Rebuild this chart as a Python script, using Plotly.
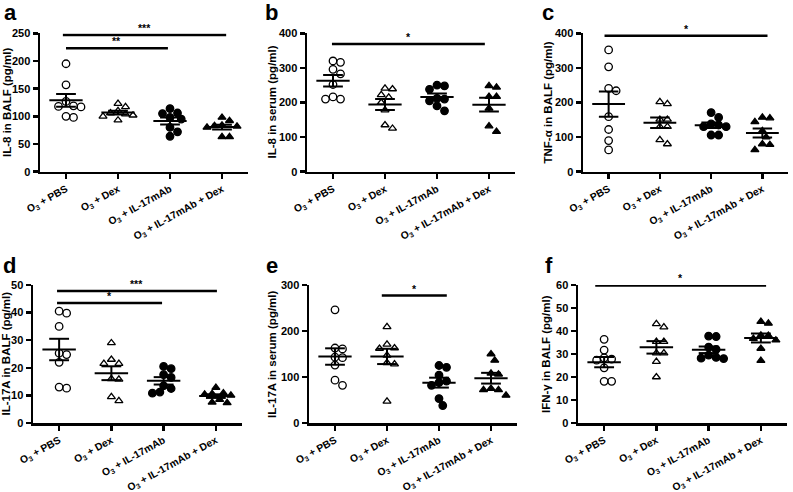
import numpy as np
import plotly.graph_objects as go

W, H = 793, 492

groups = ["O<sub>3</sub> + PBS", "O<sub>3</sub> + Dex", "O<sub>3</sub> + IL-17mAb", "O<sub>3</sub> + IL-17mAb + Dex"]

# ---- data (pg/ml) ----
il8_balf_pbs = [195, 157, 127, 119, 118, 117, 100, 98]
il8_balf_dex = [123, 117, 110, 106, 104, 102, 100, 93]
il8_balf_mab = [114, 106, 105, 98, 95, 80, 72, 64]
il8_balf_mabdex = [98, 92, 84, 83, 82, 80, 63, 63]

il8_serum_pbs = [320, 316, 296, 283, 252, 216, 210, 210]
il8_serum_dex = [241, 239, 215, 222, 200, 178, 125, 135]
il8_serum_mab = [250, 238, 248, 210, 212, 176, 190, 205]
il8_serum_mabdex = [248, 244, 217, 217, 183, 116, 132]

tnf_balf_pbs = [352, 303, 234, 241, 159, 122, 90, 63]
tnf_balf_dex = [202, 196, 151, 151, 130, 130, 80, 92]
tnf_balf_mab = [157, 171, 135, 138, 130, 130, 106, 106]
tnf_balf_mabdex = [157, 155, 144, 118, 100, 80, 78, 63]

il17_balf_pbs = [40.5, 39.8, 35, 25.3, 24.8, 22, 13, 12.6]
il17_balf_dex = [29, 23, 21.5, 21.5, 16, 15.8, 9.5, 8]
il17_balf_mab = [20.5, 19.7, 17.5, 16.5, 13.5, 12.5, 11.2, 10.8]
il17_balf_mabdex = [12.8, 10.8, 10.6, 10.4, 10, 8.5, 7.5, 7.3]

il17_serum_pbs = [246, 161, 163, 142, 143, 126, 82, 93]
il17_serum_dex = [209, 163, 171, 162, 147, 131, 128, 47]
il17_serum_mab = [125, 121, 104, 91, 88, 82, 53, 38]
il17_serum_mabdex = [150, 136, 108, 106, 75, 72, 72, 60]

ifn_balf_pbs = [36.4, 31.7, 27.8, 28.3, 27.3, 24, 18.1, 18.1]
ifn_balf_dex = [43.1, 41.7, 35.4, 35.4, 30.4, 30.4, 26.7, 20]
ifn_balf_mab = [37.6, 37.8, 33, 32, 28.5, 28.2, 28, 29.5]
ifn_balf_mabdex = [43.3, 44.1, 38.1, 38, 36.7, 36, 32.4, 27.1]

# significance bars: (start, end, level, label)
sig_a = [(-0.06, 3.08, 247, "***"), (0.0, 1.96, 223, "**")]
sig_b = [(-0.02, 2.92, 369, "*")]
sig_c = [(-0.08, 3.1, 393, "*")]
sig_d = [(-0.04, 3.02, 47.8, "***"), (-0.04, 1.97, 43.5, "*")]
sig_e = [(0.9, 2.15, 277, "*")]
sig_f = [(-0.17, 3.1, 59.8, "*")]

TOP = (33.3, 171.7)
BOT = (285, 423)

panels = [
    dict(letter="a", title="IL-8 in BALF (pg/ml)", ymax=250, dtick=50,
         data=[il8_balf_pbs, il8_balf_dex, il8_balf_mab, il8_balf_mabdex], sig=sig_a,
         box=(40, 248) + TOP, lpos=(10, 13), tx=6.5),
    dict(letter="b", title="IL-8 in serum (pg/ml)", ymax=400, dtick=100,
         data=[il8_serum_pbs, il8_serum_dex, il8_serum_mab, il8_serum_mabdex], sig=sig_b,
         box=(307, 515) + TOP, lpos=(271, 13), tx=271),
    dict(letter="c", title="TNF-\u03b1 in BALF (pg/ml)", ymax=400, dtick=100,
         data=[tnf_balf_pbs, tnf_balf_dex, tnf_balf_mab, tnf_balf_mabdex], sig=sig_c,
         box=(583, 788) + TOP, lpos=(548, 13), tx=547),
    dict(letter="d", title="IL-17A in BALF (pg/ml)", ymax=50, dtick=10,
         data=[il17_balf_pbs, il17_balf_dex, il17_balf_mab, il17_balf_mabdex], sig=sig_d,
         box=(33, 242) + BOT, lpos=(9, 265), tx=5.5),
    dict(letter="e", title="IL-17A in serum (pg/ml)", ymax=300, dtick=100,
         data=[il17_serum_pbs, il17_serum_dex, il17_serum_mab, il17_serum_mabdex], sig=sig_e,
         box=(309, 517) + BOT, lpos=(272, 265), tx=272),
    dict(letter="f", title="IFN-\u03b3 in BALF (pg/ml)", ymax=60, dtick=10,
         data=[ifn_balf_pbs, ifn_balf_dex, ifn_balf_mab, ifn_balf_mabdex], sig=sig_f,
         box=(578, 787) + BOT, lpos=(549, 265), tx=546),
]

symbols = ["circle-open", "triangle-up-open", "circle", "triangle-up"]
sizes = [7.5, 7, 7.5, 7]
FONT = "Liberation Sans"


def swarm(vals, ppu, ppc, diam=7.5):
    vals = np.asarray(vals, dtype=float)
    order = np.argsort(-vals)
    placed = []
    offs = np.zeros(len(vals))
    cands = [0]
    for j in range(1, 20):
        cands += [j, -j]
    for i in order:
        y = vals[i] * ppu
        x = 0.0
        for c in cands:
            x = c * diam * 0.5
            if all((x - px) ** 2 + (y - py) ** 2 >= (diam * 0.95) ** 2 for px, py in placed):
                break
        placed.append((x, y))
        offs[i] = x / ppc
    return offs


fig = go.Figure()
layout = dict(width=W, height=H, margin=dict(l=0, r=0, t=0, b=0), hovermode=False,
              paper_bgcolor="white", plot_bgcolor="white", showlegend=False)
annotations = []
shapes = []

for k, p in enumerate(panels):
    n = "" if k == 0 else str(k + 1)
    xa, ya = "x" + n, "y" + n
    x0, x1, yt, yb = p["box"]
    ppc = (x1 - x0) / 4.0
    ppu = (yb - yt) / p["ymax"]
    layout["xaxis" + n] = dict(
        domain=[x0 / W, x1 / W], range=[-0.5, 3.5], anchor=ya, fixedrange=True,
        tickvals=[0, 1, 2, 3], ticktext=groups, tickangle=-29,
        showline=True, linewidth=2.5, linecolor="black", ticks="outside",
        ticklen=5, tickwidth=2.5, tickcolor="black", showgrid=False, zeroline=False,
        tickfont=dict(family=FONT, size=10.3, color="black", weight="bold"), automargin=False)
    layout["yaxis" + n] = dict(
        domain=[1 - yb / H, 1 - yt / H], range=[0, p["ymax"]], anchor=xa, fixedrange=True,
        dtick=p["dtick"], tick0=0, showline=True, linewidth=2.5, linecolor="black",
        ticks="outside", ticklen=5, tickwidth=2.5, tickcolor="black",
        showgrid=False, zeroline=False, automargin=False,
        tickfont=dict(family=FONT, size=11, color="black", weight="bold"))
    for g, vals in enumerate(p["data"]):
        offs = swarm(vals, ppu, ppc)
        fig.add_trace(go.Scatter(
            x=g + offs, y=vals, mode="markers", xaxis=xa, yaxis=ya,
            marker=dict(symbol=symbols[g], size=sizes[g], color="black",
                        line=dict(color="black", width=1.3))))
        m = float(np.mean(vals))
        s = float(np.std(vals, ddof=1) / np.sqrt(len(vals)))
        lx = [g - 0.32, g + 0.32, None, g, g, None, g - 0.19, g + 0.19, None, g - 0.19, g + 0.19]
        ly = [m, m, None, m - s, m + s, None, m + s, m + s, None, m - s, m - s]
        fig.add_trace(go.Scatter(x=lx, y=ly, mode="lines", xaxis=xa, yaxis=ya,
                                 line=dict(color="black", width=2)))
    for (sa, sb, lev, lab) in p["sig"]:
        shapes.append(dict(type="line", xref=xa, yref=ya, x0=sa, x1=sb, y0=lev, y1=lev,
                           line=dict(color="black", width=2.5)))
        annotations.append(dict(xref=xa, yref=ya, x=(sa + sb) / 2, y=lev, text=lab,
                                showarrow=False, yanchor="bottom", yshift=-1,
                                font=dict(family=FONT, size=10.5, color="black", weight="bold")))
    annotations.append(dict(xref="paper", yref="paper", x=p["lpos"][0] / W, y=1 - p["lpos"][1] / H,
                            text=p["letter"], showarrow=False, xanchor="center", yanchor="middle",
                            font=dict(family=FONT, size=22, color="black", weight="bold")))
    annotations.append(dict(xref="paper", yref="paper", x=p["tx"] / W, y=1 - (yt + yb) / 2 / H,
                            text=p["title"], showarrow=False, textangle=-90,
                            xanchor="center", yanchor="middle",
                            font=dict(family=FONT, size=11.5, color="black", weight="bold")))

layout["annotations"] = annotations
layout["shapes"] = shapes
fig.update_layout(**layout)
fig.write_html("out.html", config=dict(staticPlot=True, displayModeBar=False),
               post_script="document.body.style.margin='0px';document.body.style.overflow='hidden';")
